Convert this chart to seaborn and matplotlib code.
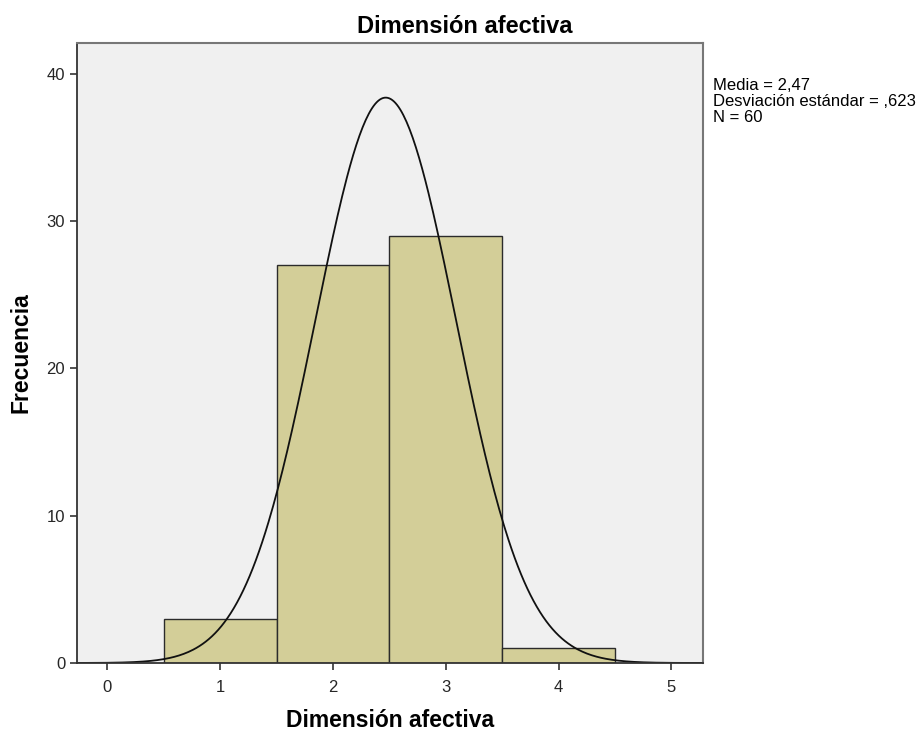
import numpy as np
import pandas as pd
import seaborn as sns
import matplotlib.pyplot as plt

# Data
scores = [1, 2, 3, 4]
counts = [3, 27, 29, 1]
title = 'Dimensión afectiva'
x_ticks = [0, 1, 2, 3, 4, 5]
y_ticks = [0, 10, 20, 30, 40]


def normal_curve(values, weights, lo, hi):
    values = np.asarray(values, dtype=float)
    weights = np.asarray(weights, dtype=float)
    n = weights.sum()
    mean = (values * weights).sum() / n
    sd = np.sqrt((weights * (values - mean) ** 2).sum() / (n - 1))
    xs = np.linspace(lo, hi, 400)
    ys = n * np.exp(-0.5 * ((xs - mean) / sd) ** 2) / (sd * np.sqrt(2 * np.pi))
    return pd.DataFrame({'x': xs, 'y': ys}), mean, sd, int(n)


def main():
    sns.set_style('ticks')
    plt.rcParams['font.family'] = ['Liberation Sans', 'DejaVu Sans']

    fig = plt.figure(figsize=(9.17, 7.33), dpi=100)
    ax = fig.add_axes([0.084, 0.0955, 0.6827, 0.8458])
    ax.set_facecolor('#f0f0f0')

    df = pd.DataFrame({'score': scores, 'count': counts})
    sns.histplot(data=df, x='score', weights='count', discrete=True,
                 color='#d3ce98', edgecolor='#2b2b2b', linewidth=1.0,
                 alpha=1, ax=ax)

    xmin, xmax = -0.27, 5.28
    curve, mean, sd, n = normal_curve(scores, counts, xmin, xmax)
    sns.lineplot(data=curve, x='x', y='y', color='#111111', linewidth=1.3, ax=ax)

    ax.set_xlim(xmin, xmax)
    ax.set_ylim(0, 42.1)
    ax.set_xticks(x_ticks)
    ax.set_yticks(y_ticks)
    ax.tick_params(labelsize=12, length=5, width=1.2, color='#333333')
    ax.tick_params(axis='x', pad=7)

    for side in ['left', 'bottom']:
        ax.spines[side].set_color('#333333')
        ax.spines[side].set_linewidth(1.3)
    for side in ['top', 'right']:
        ax.spines[side].set_visible(True)
        ax.spines[side].set_color('#777777')
        ax.spines[side].set_linewidth(1.5)

    ax.set_xlabel(title, fontsize=16.5, fontweight='bold', labelpad=10,
                  color='black')
    ax.set_ylabel('Frecuencia', fontsize=16.5, fontweight='bold', labelpad=10,
                  color='black')
    fig.text(0.507, 0.955, title, ha='center', va='baseline', fontsize=17,
             fontweight='bold', color='black')

    stats = 'Media = {:.2f}\nDesviación estándar = {}\nN = {}'.format(
        mean, '{:.3f}'.format(sd).lstrip('0'), n).replace('.', ',')
    fig.text(0.777, 0.893, stats, fontsize=12, va='top', ha='left',
             linespacing=1.05, color='black')

    plt.savefig('out.png', dpi=100)


if __name__ == '__main__':
    main()
